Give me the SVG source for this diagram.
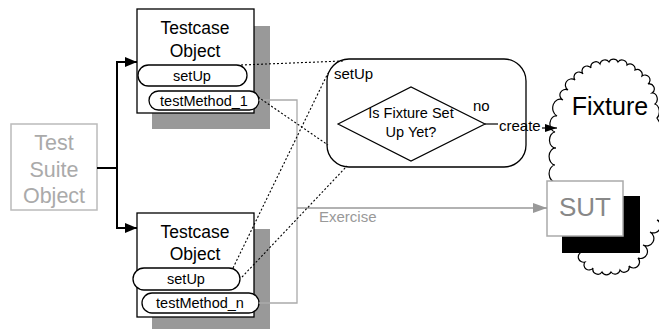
<svg xmlns="http://www.w3.org/2000/svg" width="659" height="329" viewBox="0 0 659 329">
<style>
text{font-family:"Liberation Sans",Arial,sans-serif;fill:#000}
.box{fill:#fff;stroke:#000;stroke-width:1.3}
.shadow{fill:#999}
.pill{fill:#fff;stroke:#000;stroke-width:1.3}
.dot{fill:none;stroke:#000;stroke-width:1.1;stroke-dasharray:2 2}
.gray{fill:none;stroke:#aaa;stroke-width:1.3}
.blk{fill:none;stroke:#000;stroke-width:2}
</style>
<defs>
<marker id="ah" markerWidth="12" markerHeight="10" refX="12" refY="5" orient="auto" markerUnits="userSpaceOnUse"><path d="M0,0 L12,5 L0,10 Z" fill="#000"/></marker>
<marker id="ahs" markerWidth="12" markerHeight="8" refX="12" refY="4" orient="auto" markerUnits="userSpaceOnUse"><path d="M0,0 L12,4 L0,8 Z" fill="#000"/></marker>
<marker id="ahg" markerWidth="14" markerHeight="10" refX="14" refY="5" orient="auto" markerUnits="userSpaceOnUse"><path d="M0,0 L14,5 L0,10 Z" fill="#999"/></marker>
</defs>

<g id="fixture">
<path d="M556 182 A6 8 0 0 1 555 165 A6 8 0 0 1 556 148 A6 8 0 0 1 555 132 A6 8 0 0 1 557 116 A5 6 0 0 1 563 100 A5 5 0 0 1 568 90 A5 5 0 0 1 575 80 A5 5 0 0 1 583 74 A5 5 0 0 1 591 68 A5 5 0 0 1 600 64 A5 5 0 0 1 609 62 A5 5 0 0 1 618 62 A5 5 0 0 1 627 65 A5 5 0 0 1 635 70 A5 5 0 0 1 642 76 A5 5 0 0 1 648 84 A5 5 0 0 1 652 93 A5 6 0 0 1 655 104 A6 8 0 0 1 657 118 L664 130 L664 205 A6 6 0 0 1 657 220 A6 6 0 0 1 650 232 A6 6 0 0 1 643 245 A6 6 0 0 1 638 258 A5 5 0 0 1 629 266 A5 5 0 0 1 620 270 A5 5 0 0 1 611 272 A5 5 0 0 1 602 272 A5 5 0 0 1 593 268 A5 5 0 0 1 585 262 A5 5 0 0 1 582 252 L582 240 Z" fill="#fff" stroke="#000" stroke-width="1.2"/>
<text x="610" y="115" font-size="25" text-anchor="middle">Fixture</text>
</g>

<g id="sut">
<rect x="562" y="196" width="78" height="57" fill="#000"/>
<rect x="547" y="181" width="76" height="55" fill="#fff" stroke="#aaa" stroke-width="1.5"/>
<text x="585" y="216" font-size="26" text-anchor="middle" style="fill:#888">SUT</text>
</g>

<g id="suite">
<rect x="11" y="124" width="86" height="86" fill="#fff" stroke="#bbb" stroke-width="1.5"/>
<text x="54" y="150" font-size="21.5" text-anchor="middle" style="fill:#aaa">Test</text>
<text x="54" y="177" font-size="21.5" text-anchor="middle" style="fill:#aaa">Suite</text>
<text x="54" y="203" font-size="21.5" text-anchor="middle" style="fill:#aaa">Object</text>
</g>

<g id="tc1">
<rect class="shadow" x="152" y="26" width="118" height="103"/>
<rect class="box" x="137" y="9" width="117" height="104"/>
<text x="195" y="34" font-size="17.5" text-anchor="middle">Testcase</text>
<text x="195" y="57" font-size="17.5" text-anchor="middle">Object</text>
<rect class="pill" x="138" y="65" width="109" height="21" rx="10.5"/>
<text x="192" y="81" font-size="14.5" text-anchor="middle">setUp</text>
<rect class="pill" x="149" y="91" width="110" height="19" rx="9.5"/>
<text x="204" y="106" font-size="14.5" text-anchor="middle">testMethod_1</text>
</g>

<g id="tc2">
<rect class="shadow" x="152" y="229" width="118" height="100"/>
<rect class="box" x="137" y="213" width="117" height="104"/>
<text x="195" y="238" font-size="17.5" text-anchor="middle">Testcase</text>
<text x="195" y="260" font-size="17.5" text-anchor="middle">Object</text>
<rect class="pill" x="133" y="268" width="107" height="22" rx="11"/>
<text x="186" y="284" font-size="14.5" text-anchor="middle">setUp</text>
<rect class="pill" x="142" y="293" width="117" height="20" rx="10"/>
<text x="200" y="308" font-size="14.5" text-anchor="middle">testMethod_n</text>
</g>

<g id="setup">
<rect x="327" y="59" width="199" height="108" rx="22" fill="#fff" stroke="#000" stroke-width="1.3"/>
<text x="334" y="79" font-size="15">setUp</text>
<polygon points="338,124 411,87 485,124 411,161" fill="#fff" stroke="#000" stroke-width="1.2"/>
<text x="411" y="118" font-size="14.5" text-anchor="middle">Is Fixture Set</text>
<text x="411" y="137" font-size="14.5" text-anchor="middle">Up Yet?</text>
</g>

<g id="connectors">
<path class="blk" d="M97 168 H117 V62 H137" marker-end="url(#ah)"/>
<path class="blk" d="M117 168 V228 H137" marker-end="url(#ah)"/>
<path class="gray" d="M259 100 H297 V303 H259"/>
<path d="M297 208 H547" fill="none" stroke="#999" stroke-width="1.3" marker-end="url(#ahg)"/>
<text x="319" y="222" font-size="15" style="fill:#999">Exercise</text>
<line class="dot" x1="241" y1="65" x2="343" y2="61"/>
<line class="dot" x1="258" y1="97" x2="328" y2="145"/>
<line class="dot" x1="233" y1="268" x2="328" y2="73"/>
<line class="dot" x1="242" y1="277" x2="347" y2="166"/>
<line x1="485" y1="124" x2="498" y2="124" stroke="#000" stroke-width="1.2"/>
<text x="473" y="111" font-size="15">no</text>
<text x="499" y="131" font-size="15">create</text>
<line x1="542" y1="128" x2="557" y2="128" stroke="#000" stroke-width="1.2" marker-end="url(#ahs)"/>
</g>
</svg>
